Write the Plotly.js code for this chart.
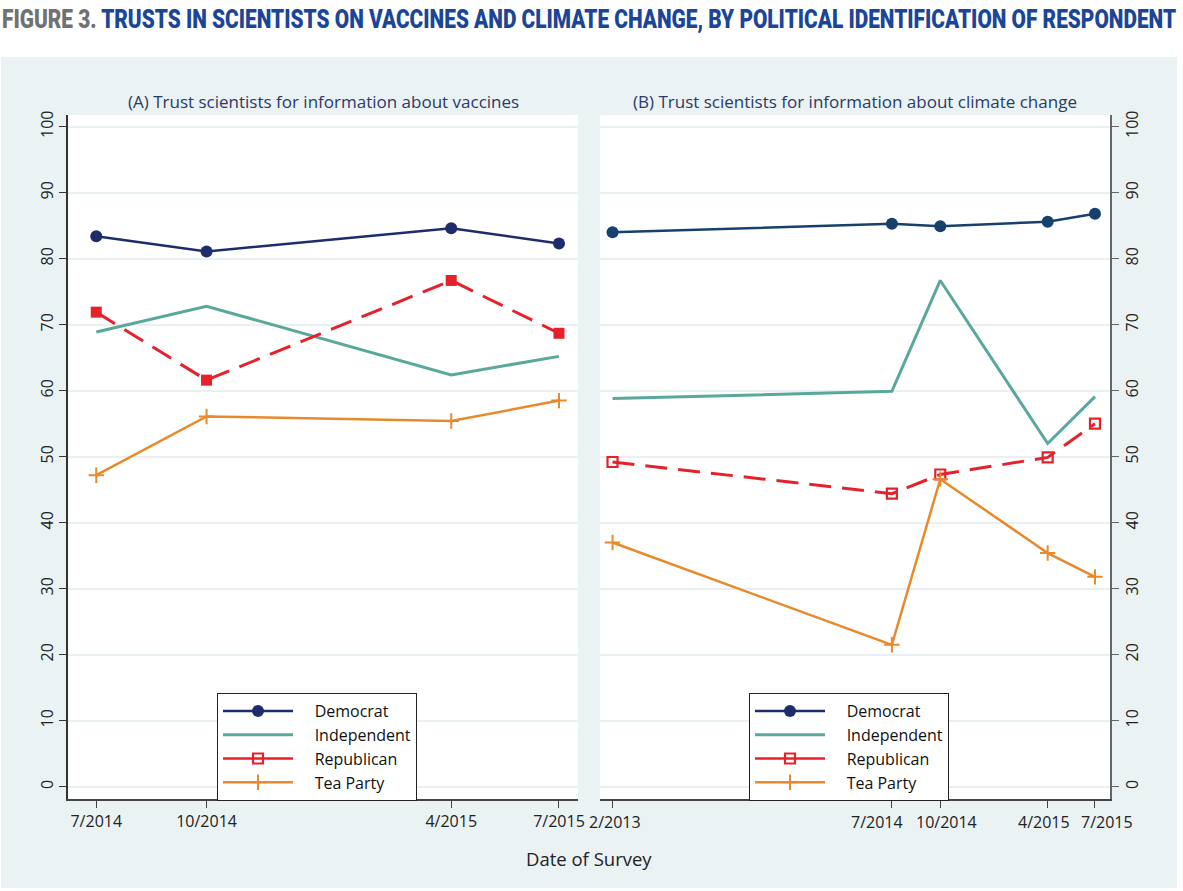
<!DOCTYPE html>
<html><head><meta charset="utf-8">
<script src="https://cdn.plot.ly/plotly-3.0.1.min.js"></script>
<style>html,body{margin:0;padding:0;background:#fff}</style>
</head><body><div id="chart" style="width:1183px;height:891px"></div>
<script>
// ---- data ----
const seriesNames = ['Democrat', 'Independent', 'Republican', 'Tea Party'];

const datesA = ['2014-07-10', '2014-10-05', '2015-04-16', '2015-07-10'];
const tickTextA = ['7/2014', '10/2014', '4/2015', '7/2015'];
const demA = [83.4, 81.1, 84.6, 82.3];
const indA = [68.9, 72.8, 62.4, 65.2];
const repA = [71.9, 61.6, 76.7, 68.7];
const teaA = [47.2, 56.1, 55.4, 58.5];

const datesB = ['2013-02-23', '2014-07-10', '2014-10-05', '2015-04-16', '2015-07-10'];
const tickTextB = ['2/2013', '7/2014', '10/2014', '4/2015', '7/2015'];
const demB = [84.0, 85.3, 84.9, 85.6, 86.8];
const indB = [58.8, 59.9, 76.7, 52.0, 59.1];
const repB = [49.2, 44.4, 47.3, 49.9, 55.0];
const teaB = [37.0, 21.5, 46.6, 35.4, 31.8];

const yTicks = [0, 10, 20, 30, 40, 50, 60, 70, 80, 90, 100];

// ---- styling ----
const W = 1183, H = 891;
const colDemA = '#1F2C6C', colDemB = '#17406C', colInd = '#5AA89C', colRep = '#E5222B', colTea = '#E88A2C';
const px = v => v / W, py = v => 1 - v / H;
const FONT = 'Open Sans, Liberation Sans, Arial, sans-serif';
const labelShiftB = [2, -15, 6, -4, 12];   // label offsets (px) of panel B tick labels
const legendPad = '\u00a0\u00a0\u00a0\u00a0';

function mk(x, y, name, xa, ya, legend, style, show) {
  return Object.assign({
    type: 'scatter', x: x, y: y, name: name, xaxis: xa, yaxis: ya,
    legend: legend, showlegend: show, hoverinfo: 'x+y+name'
  }, style);
}
const sDem = c => ({mode: 'lines+markers', line: {color: c, width: 2.5}, marker: {symbol: 'circle', size: 12, color: c}});
const sDemLeg = {mode: 'lines+markers', line: {color: colDemA, width: 2.5}, marker: {symbol: 'circle', size: 12, color: colDemA}};
const sInd = {mode: 'lines', line: {color: colInd, width: 3}};
const sRepFilled = {mode: 'lines+markers', line: {color: colRep, width: 3, dash: '22px,11px'}, marker: {symbol: 'square', size: 11, color: colRep}};
const sRepOpen = {mode: 'lines+markers', line: {color: colRep, width: 3, dash: '22px,11px'}, marker: {symbol: 'square-open', size: 10, color: colRep, line: {color: colRep, width: 2.2}}};
const sRepLeg = {mode: 'lines+markers', line: {color: colRep, width: 2.5}, marker: {symbol: 'square-open', size: 10, color: colRep, line: {color: colRep, width: 2.2}}};
const sTea = {mode: 'lines+markers', line: {color: colTea, width: 2.5}, marker: {symbol: 'cross-thin', size: 11, color: colTea, line: {color: colTea, width: 2}}};
const legStyles = [sDemLeg, sInd, sRepLeg, sTea];

const traces = [
  mk(datesA, demA, seriesNames[0], 'x', 'y', 'legend', sDem(colDemA), false),
  mk(datesA, indA, seriesNames[1], 'x', 'y', 'legend', sInd, false),
  mk(datesA, repA, seriesNames[2], 'x', 'y', 'legend', sRepFilled, false),
  mk(datesA, teaA, seriesNames[3], 'x', 'y', 'legend', sTea, false),

  mk(datesB, demB, seriesNames[0], 'x2', 'y2', 'legend2', sDem(colDemB), false),
  mk(datesB, indB, seriesNames[1], 'x2', 'y2', 'legend2', sInd, false),
  mk(datesB, repB, seriesNames[2], 'x2', 'y2', 'legend2', sRepOpen, false),
  mk(datesB, teaB, seriesNames[3], 'x2', 'y2', 'legend2', sTea, false)
];
// legend keys (one legend box per panel)
['legend', 'legend2'].forEach((lg, j) => {
  seriesNames.forEach((n, i) => {
    traces.push(mk([null], [null], legendPad + n, j ? 'x2' : 'x', j ? 'y2' : 'y', lg, legStyles[i], true));
  });
});

const tickFont = {family: FONT, size: 16, color: '#222'};
function xAxis(domain, range, vals, text, anchor, showLabels) {
  return {
    type: 'date', domain: domain, range: range, anchor: anchor,
    tickmode: 'array', tickvals: vals, ticktext: text, tickangle: 0, showticklabels: showLabels,
    ticks: 'outside', ticklen: 7, tickwidth: 1.3, tickcolor: '#444',
    showline: true, linecolor: '#444', linewidth: 1.5, showgrid: false, zeroline: false,
    tickfont: tickFont, fixedrange: true
  };
}
function yAxis(side, anchor, lineColor) {
  return {
    domain: [py(799), py(115)], range: [-1.86, 101.77], anchor: anchor, side: side,
    tickmode: 'array', tickvals: yTicks, ticktext: yTicks.map(String), tickangle: -90,
    ticks: 'outside', ticklen: 7, tickwidth: 1.3, tickcolor: lineColor,
    showline: true, linecolor: lineColor, linewidth: 1.5,
    showgrid: true, gridcolor: '#E8F0F2', gridwidth: 2, zeroline: false,
    tickfont: tickFont, fixedrange: true
  };
}
const legendBase = {
  bgcolor: '#FFFFFF', bordercolor: '#222', borderwidth: 1,
  font: {family: FONT, size: 16, color: '#111'}, xanchor: 'left', yanchor: 'top',
  traceorder: 'normal', tracegroupgap: 0, itemwidth: 70
};

const annotations = [
  {text: '(A) Trust scientists for information about vaccines', xref: 'paper', yref: 'paper',
   x: px(323), y: py(101), xanchor: 'center', yanchor: 'middle', showarrow: false,
   font: {family: FONT, size: 17, color: '#2B3A66'}},
  {text: '(B) Trust scientists for information about climate change', xref: 'paper', yref: 'paper',
   x: px(855), y: py(101), xanchor: 'center', yanchor: 'middle', showarrow: false,
   font: {family: FONT, size: 17, color: '#2B3A66'}},
  {text: 'Date of Survey', xref: 'paper', yref: 'paper',
   x: px(589), y: py(858), xanchor: 'center', yanchor: 'middle', showarrow: false,
   font: {family: FONT, size: 18.5, color: '#222'}}
];
datesB.forEach((d, i) => annotations.push({
  text: tickTextB[i], xref: 'x2', yref: 'paper', x: d, y: py(809), xanchor: 'center', yanchor: 'top',
  xshift: labelShiftB[i], showarrow: false, font: tickFont
}));

const layout = {
  width: W, height: H,
  margin: {l: 0, r: 0, t: 0, b: 0, pad: 0},
  paper_bgcolor: '#EAF2F4', plot_bgcolor: '#FFFFFF',
  title: {
    text: '<span style="color:#707173">FIGURE 3.</span> TRUSTS IN SCIENTISTS ON VACCINES AND CLIMATE CHANGE, BY POLITICAL IDENTIFICATION OF RESPONDENT',
    x: px(2), xanchor: 'left', xref: 'paper', y: 1 - 19 / H, yanchor: 'middle',
    font: {family: 'Roboto, Liberation Sans, sans-serif', size: 26, weight: 900, color: '#1B4597'}
  },
  xaxis: xAxis([px(68), px(578)], ['2014-06-17 17:00', '2015-07-25 00:00'], datesA, tickTextA, 'y', true),
  xaxis2: xAxis([px(600), px(1110)], ['2013-01-31 12:00', '2015-08-06 00:00'], datesB, tickTextB, 'y2', false),
  yaxis: yAxis('left', 'x', '#333'),
  yaxis2: yAxis('right', 'x2', '#666'),
  legend: Object.assign({x: px(217), y: py(693)}, legendBase),
  legend2: Object.assign({x: px(749), y: py(693)}, legendBase),
  shapes: [
    {type: 'rect', xref: 'paper', yref: 'paper', x0: 0, x1: 1, y0: py(57), y1: 1, fillcolor: '#FFFFFF', line: {width: 0}, layer: 'below'},
    {type: 'rect', xref: 'paper', yref: 'paper', x0: px(1177), x1: 1, y0: 0, y1: 1, fillcolor: '#FFFFFF', line: {width: 0}, layer: 'below'},
    {type: 'rect', xref: 'paper', yref: 'paper', x0: 0, x1: px(1), y0: 0, y1: 1, fillcolor: '#FFFFFF', line: {width: 0}, layer: 'below'},
    {type: 'rect', xref: 'paper', yref: 'paper', x0: 0, x1: 1, y0: 0, y1: py(888), fillcolor: '#FFFFFF', line: {width: 0}, layer: 'below'}
  ],
  annotations: annotations,
  showlegend: true,
  hovermode: 'closest'
};

Plotly.newPlot('chart', traces, layout, {displayModeBar: false, responsive: false}).then(gd => {
  // condense the headline horizontally so it fits the page width like the original condensed face
  const t = gd.querySelector('.gtitle');
  if (t) {
    const bb = t.getBBox();
    const k = 1175 / bb.width;
    t.setAttribute('transform', 'translate(' + bb.x + ',0) scale(' + k + ',1) translate(' + (-bb.x) + ',0)');
  }
});
</script>
</body></html>
